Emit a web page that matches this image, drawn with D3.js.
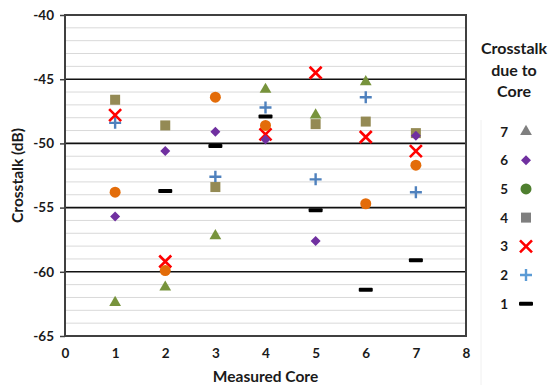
<!DOCTYPE html>
<html>
<head>
<meta charset="utf-8">
<script src="https://cdnjs.cloudflare.com/ajax/libs/d3/7.8.5/d3.min.js"></script>
<style>
  body { margin: 0; background: #fff; }
  text { font-family: Lato, "Open Sans", sans-serif; font-weight: bold; fill: #1a1a1a; }
</style>
</head>
<body>
<div id="chart"></div>
<script>
// Measured cores on the x axis
let cores = [1, 2, 3, 4, 5, 6, 7];

// Crosstalk (dB) due to each core, null where core == measured core
let core1 = [null, -53.7, -50.2, -47.9, -55.2, -61.4, -59.1];
let core2 = [-48.4, null, -52.6, -47.2, -52.8, -46.4, -53.8];
let core3 = [-47.8, -59.2, null, -49.3, -44.5, -49.5, -50.6];
let core4 = [-46.6, -48.6, -53.4, null, -48.5, -48.3, -49.2];
let core5 = [-53.8, -59.9, -46.4, -48.6, null, -54.7, -51.7];
let core6 = [-55.7, -50.6, -49.1, -49.7, -57.6, null, -49.4];
let core7 = [-62.4, -61.2, -57.2, -45.8, -47.8, -45.2, null];

let yTicks = [-40, -45, -50, -55, -60, -65];
let xTicks = [0, 1, 2, 3, 4, 5, 6, 7, 8];

let series = [
    { name: "7", values: core7, shape: "triangle", color: "#77933c", legendColor: "#7f7f7f" },
    { name: "6", values: core6, shape: "diamond", color: "#7030a0", legendColor: "#7030a0" },
    { name: "5", values: core5, shape: "circle", color: "#e36c09", legendColor: "#4f7f2f" },
    { name: "4", values: core4, shape: "square", color: "#948a54", legendColor: "#7f7f7f" },
    { name: "3", values: core3, shape: "x", color: "#ff0000", legendColor: "#ff0000" },
    { name: "2", values: core2, shape: "plus", color: "#4f81bd", legendColor: "#5b9bd5" },
    { name: "1", values: core1, shape: "dash", color: "#000000", legendColor: "#000000" }
];

let width = 555, height = 385;
let margin = { left: 65, right: 89, top: 15, bottom: 49 };

let svg = d3.select("#chart")
    .append("svg")
    .attr("width", width)
    .attr("height", height);

let x = d3.scaleLinear().domain([0, 8]).range([margin.left, width - margin.right]);
let y = d3.scaleLinear().domain([-65, -40]).range([height - margin.bottom, margin.top]);

// minor gridlines every 1 dB
svg.append("g")
    .selectAll("line")
    .data(d3.range(-64, -40, 1).filter(v => v % 5 != 0))
    .enter().append("line")
    .attr("x1", x(0)).attr("x2", x(8))
    .attr("y1", d => y(d)).attr("y2", d => y(d))
    .attr("stroke", "#d9d9d9")
    .attr("stroke-width", 1);

// major gridlines
svg.append("g")
    .selectAll("line")
    .data([-45, -50, -55, -60])
    .enter().append("line")
    .attr("x1", x(0)).attr("x2", x(8))
    .attr("y1", d => y(d)).attr("y2", d => y(d))
    .attr("stroke", "#111")
    .attr("stroke-width", 1.6);

// plot frame
svg.append("rect")
    .attr("x", x(0)).attr("y", y(-40))
    .attr("width", x(8) - x(0))
    .attr("height", y(-65) - y(-40))
    .attr("fill", "none")
    .attr("stroke", "#404040")
    .attr("stroke-width", 2);

// y axis (plain hyphen for the minus sign, as in the original)
let yAxis = svg.append("g")
    .attr("transform", `translate(${x(0)},0)`)
    .call(d3.axisLeft(y).tickValues(yTicks).tickFormat(d => String(d)).tickSize(5).tickPadding(6));
yAxis.select(".domain").remove();
yAxis.selectAll("line").attr("stroke", "#404040").attr("stroke-width", 1.5);
yAxis.selectAll("text").style("font-size", "13.5px").attr("fill", "#1a1a1a")
    .style("font-family", "Lato, sans-serif").style("font-weight", "bold");

// x axis
let xAxis = svg.append("g")
    .attr("transform", `translate(0,${y(-65)})`)
    .call(d3.axisBottom(x).tickValues(xTicks).tickFormat(d => String(d)).tickSize(0).tickPadding(12));
xAxis.select(".domain").remove();
xAxis.selectAll("text").style("font-size", "13.5px").attr("fill", "#1a1a1a")
    .style("font-family", "Lato, sans-serif").style("font-weight", "bold");

// axis titles
svg.append("text")
    .attr("x", (x(0) + x(8)) / 2)
    .attr("y", 382)
    .attr("text-anchor", "middle")
    .attr("font-size", "15.5px")
    .text("Measured Core");

svg.append("text")
    .attr("transform", `translate(23,${(y(-40) + y(-65)) / 2}) rotate(-90)`)
    .attr("text-anchor", "middle")
    .attr("font-size", "15.5px")
    .text("Crosstalk (dB)");

// marker drawing
function drawMarker(g, shape, color, cx, cy) {
    if (shape == "triangle") {
        g.append("path").attr("d", d3.symbol(d3.symbolTriangle, 60)())
            .attr("transform", `translate(${cx},${cy})`).attr("fill", color);
    } else if (shape == "diamond") {
        g.append("path").attr("d", "M0,-5L5,0L0,5L-5,0Z")
            .attr("transform", `translate(${cx},${cy})`).attr("fill", color);
    } else if (shape == "circle") {
        g.append("circle").attr("cx", cx).attr("cy", cy).attr("r", 5.5).attr("fill", color);
    } else if (shape == "square") {
        g.append("rect").attr("x", cx - 5).attr("y", cy - 5)
            .attr("width", 10).attr("height", 10).attr("fill", color);
    } else if (shape == "x") {
        g.append("path").attr("d", "M-6,-6L6,6M-6,6L6,-6")
            .attr("transform", `translate(${cx},${cy})`)
            .attr("stroke", color).attr("stroke-width", 2.6).attr("fill", "none");
    } else if (shape == "plus") {
        g.append("path").attr("d", "M-6,0L6,0M0,-6L0,6")
            .attr("transform", `translate(${cx},${cy})`)
            .attr("stroke", color).attr("stroke-width", 2.4).attr("fill", "none");
    } else if (shape == "dash") {
        g.append("rect").attr("x", cx - 7).attr("y", cy - 2)
            .attr("width", 14).attr("height", 4).attr("rx", 1).attr("fill", color);
    }
}

// draw points, core 1 first so later series sit on top
let points = svg.append("g");
series.slice().reverse().forEach(s => {
    s.values.forEach((v, i) => {
        if (v === null) return;
        drawMarker(points, s.shape, s.color, x(cores[i]), y(v));
    });
});

// legend
let legend = svg.append("g");
legend.append("line")
    .attr("x1", 481).attr("x2", 481).attr("y1", 120).attr("y2", 385)
    .attr("stroke", "#f0f0f0");

["Crosstalk", "due to", "Core"].forEach((t, i) => {
    legend.append("text")
        .attr("x", 514)
        .attr("y", 54 + i * 21.5)
        .attr("text-anchor", "middle")
        .attr("font-size", "16px")
        .text(t);
});

series.forEach((s, i) => {
    let ly = 131.5 + i * 28.7;
    legend.append("text")
        .attr("x", 508)
        .attr("y", ly + 5)
        .attr("text-anchor", "end")
        .attr("font-size", "13.5px")
        .text(s.name);
    drawMarker(legend, s.shape, s.legendColor, 526, ly);
});
</script>
</body>
</html>
